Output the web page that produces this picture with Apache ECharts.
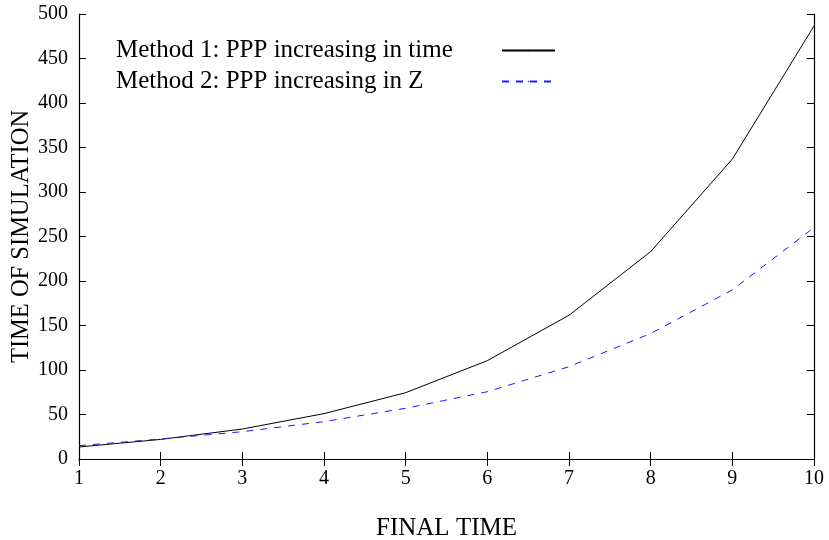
<!DOCTYPE html>
<html>
<head>
<meta charset="utf-8">
<script src="https://cdn.jsdelivr.net/npm/echarts@6/dist/echarts.min.js"></script>
<style>html,body{margin:0;padding:0;background:#fff;}#c{width:829px;height:540px;}</style>
</head>
<body>
<div id="c"></div>
<script>
const finalTimes = [1, 2, 3, 4, 5, 6, 7, 8, 9, 10];
const method1 = [13.5, 22, 33.7, 51, 74.5, 110.5, 161.5, 233, 337, 486.5];
const method2 = [15, 22.5, 30.7, 42, 57, 75.6, 103.7, 141, 190, 260];
const seriesNames = ['Method 1: PPP increasing in time', 'Method 2: PPP increasing in Z'];

const FONT = "'Liberation Serif', 'Times New Roman', serif";
const chart = echarts.init(document.getElementById('c'), null, {renderer: 'canvas'});
const axisCommon = {
  axisLine: {show: true, lineStyle: {color: '#000', width: 1.2}},
  axisTick: {show: true, inside: true, length: 7, lineStyle: {color: '#000'}},
  splitLine: {show: false}
};
chart.setOption({
  animation: false,
  backgroundColor: '#fff',
  grid: {left: 79, right: 15, top: 14, bottom: 81, containLabel: false, outerBoundsMode: 'none'},
  legend: {
    orient: 'vertical', left: 111, top: 33, align: 'right',
    itemWidth: 53, itemHeight: 2, itemGap: 6,
    data: seriesNames,
    formatter: function (n) { return '{a|' + n + '}'; },
    textStyle: {
      fontFamily: FONT, fontSize: 25, color: '#000',
      rich: {a: {width: 381, height: 25, align: 'left', fontFamily: FONT, fontSize: 25, color: '#000'}}
    }
  },
  xAxis: [
    Object.assign({
      type: 'value', min: 1, max: 10, interval: 1,
      name: 'FINAL TIME', nameLocation: 'middle', nameGap: 57,
      nameTextStyle: {fontFamily: FONT, fontSize: 25, color: '#000'},
      axisLabel: {fontFamily: FONT, fontSize: 20, color: '#000', margin: 10}
    }, axisCommon),
    Object.assign({
      type: 'value', min: 1, max: 10, interval: 1, position: 'top',
      axisLabel: {show: false}
    }, axisCommon)
  ],
  yAxis: [
    Object.assign({
      type: 'value', min: 0, max: 500, interval: 50,
      name: 'TIME OF SIMULATION', nameLocation: 'middle', nameGap: 45,
      nameMoveOverlap: false,
      nameTextStyle: {fontFamily: FONT, fontSize: 24.5, color: '#000'},
      axisLabel: {fontFamily: FONT, fontSize: 20, color: '#000', margin: 11}
    }, axisCommon),
    Object.assign({
      type: 'value', min: 0, max: 500, interval: 50, position: 'right',
      axisLabel: {show: false}
    }, axisCommon)
  ],
  series: [
    {
      name: seriesNames[0], type: 'line', symbol: 'none',
      data: finalTimes.map((x, i) => [x, method1[i]]),
      lineStyle: {color: '#000', width: 1},
      itemStyle: {color: '#000'}
    },
    {
      name: seriesNames[1], type: 'line', symbol: 'none',
      data: finalTimes.map((x, i) => [x, method2[i]]),
      lineStyle: {color: '#1a1aff', width: 1, type: [7, 7]},
      itemStyle: {color: '#1a1aff'}
    }
  ]
});
</script>
</body>
</html>
